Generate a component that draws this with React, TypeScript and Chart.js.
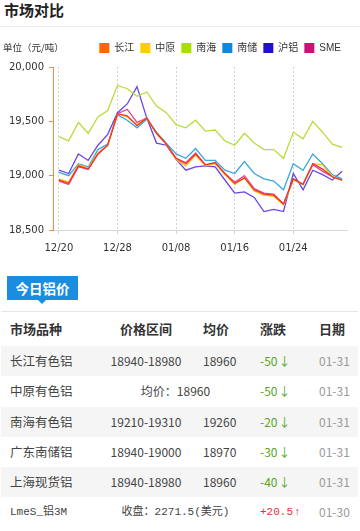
import React, { useEffect, useRef } from 'react';
import { Chart, registerables } from 'chart.js';

Chart.register(...registerables);

// ---------- chart data ----------
const dates = [
  '12/20', '12/21', '12/22', '12/25', '12/26', '12/27', '12/28', '12/29',
  '01/02', '01/03', '01/04', '01/05', '01/08', '01/09', '01/10', '01/11',
  '01/12', '01/15', '01/16', '01/17', '01/18', '01/19', '01/22', '01/23',
  '01/24', '01/25', '01/26', '01/29', '01/30', '01/31',
];
const seriesNames = ['长江', '中原', '南海', '南储', '沪铝', 'SME'];
const changjiang = [18960, 18930, 19090, 19060, 19200, 19280, 19570, 19550, 19460, 19530, 19390, 19290, 19160, 19110, 19200, 19100, 19120, 19020, 18930, 18980, 18870, 18830, 18820, 18740, 18970, 18920, 19110, 19060, 18990, 18960];
const zhongyuan = [18970, 18940, 19100, 19070, 19210, 19280, 19570, 19540, 19470, 19530, 19390, 19290, 19150, 19090, 19190, 19090, 19110, 19010, 18920, 18980, 18860, 18820, 18810, 18730, 18960, 18920, 19110, 19100, 18990, 18960];
const nanhai = [19360, 19320, 19490, 19390, 19540, 19600, 19830, 19800, 19730, 19770, 19640, 19580, 19470, 19440, 19510, 19410, 19420, 19320, 19280, 19390, 19300, 19240, 19240, 19160, 19400, 19340, 19500, 19400, 19290, 19260];
const nanchu = [19030, 19000, 19110, 19080, 19240, 19290, 19560, 19510, 19440, 19520, 19400, 19300, 19200, 19160, 19250, 19140, 19140, 19050, 19020, 19130, 19020, 18970, 18950, 18870, 19110, 19050, 19200, 19110, 19010, 18970];
const hulv = [19050, 19020, 19200, 19140, 19280, 19380, 19580, 19660, 19820, 19530, 19300, 19280, 19150, 19050, 19080, 19090, 19080, 18960, 18840, 18850, 18800, 18670, 18690, 18670, 19020, 18870, 19050, 19010, 18960, 19040];
const sme = [18950, 18920, 19080, 19060, 19200, 19280, 19570, 19610, 19490, 19530, 19390, 19290, 19160, 19120, 19210, 19100, 19120, 19020, 18940, 19000, 18880, 18840, 18830, 18740, 18970, 18920, 19100, 19040, 18990, 18960];
const seriesValues = [changjiang, zhongyuan, nanhai, nanchu, hulv, sme];
const yMin = 18500;
const yMax = 20000;
const yStep = 500;
const tickEvery = 6;

const legendColors = ['#ff6600', '#ffcc00', '#aadd00', '#0a88dd', '#2211cc', '#cc1177'];
const lineColors = ['#f2332a', '#ffbb00', '#b8dd3a', '#3aa8e0', '#6a44e4', '#e8489c'];

// ---------- table data ----------
const headers = ['市场品种', '价格区间', '均价', '涨跌', '日期'];
const markets = ['长江有色铝', '中原有色铝', '南海有色铝', '广东南储铝', '上海现货铝', 'LmeS_铝3M'];
const priceRanges = ['18940-18980', '', '19210-19310', '18940-19000', '18940-18980', ''];
const avgPrices = ['18960', '', '19260', '18970', '18960', ''];
const mergedTexts = ['', '均价：18960', '', '', '', '收盘：2271.5(美元)'];
const changes = ['-50', '-50', '-20', '-30', '-40', '+20.5'];
const rowDates = ['01-31', '01-31', '01-31', '01-31', '01-31', '01-30'];

const CJK = '"Noto Sans CJK SC", "Noto Sans", sans-serif';
const MONO = '"Liberation Mono", "Noto Sans CJK SC", monospace';

const legendGap = {
  id: 'legendGap',
  beforeInit(chart: any) {
    const legend = chart.legend;
    if (!legend) return;
    const orig = legend.fit;
    legend.fit = function () {
      orig.bind(legend)();
      this.height += 4;
    };
  },
};

function LineChart() {
  const ref = useRef<HTMLCanvasElement | null>(null);
  useEffect(() => {
    const canvas = ref.current;
    if (!canvas) return;
    const tickFont = { size: 10, family: '"DejaVu Sans", sans-serif' };
    const chart = new Chart(canvas, {
      type: 'line',
      data: {
        labels: dates,
        datasets: seriesNames.map((n, i) => ({
          label: n,
          data: seriesValues[i],
          borderColor: lineColors[i],
          backgroundColor: legendColors[i],
          borderWidth: 1.3,
          pointRadius: 0,
          pointHoverRadius: 0,
          tension: 0,
          fill: false,
        })),
      },
      options: {
        responsive: false,
        maintainAspectRatio: false,
        animation: false,
        layout: { padding: { top: 9, left: 4, right: 13, bottom: 5 } },
        plugins: {
          legend: {
            display: true,
            position: 'top',
            align: 'end',
            labels: {
              boxWidth: 10,
              boxHeight: 10,
              padding: 6,
              color: '#333',
              font: { size: 10, family: '"Liberation Sans", "Noto Sans CJK SC", sans-serif' },
              generateLabels: (c: any) =>
                c.data.datasets.map((ds: any, i: number) => ({
                  text: ds.label,
                  fillStyle: legendColors[i],
                  strokeStyle: legendColors[i],
                  lineWidth: 0,
                  hidden: false,
                  datasetIndex: i,
                  fontColor: '#333',
                })),
            },
          },
          tooltip: { enabled: false },
        },
        scales: {
          x: {
            offset: true,
            grid: { offset: false, color: '#d4d4d4', tickLength: 4, drawTicks: true },
            border: { color: '#d9d9d9', dash: [2, 2] },
            ticks: {
              autoSkip: false,
              maxRotation: 0,
              padding: 8,
              color: '#333',
              font: tickFont,
              callback: (_v: any, i: number) => (i % tickEvery === 0 ? dates[i] : null),
            },
          },
          y: {
            min: yMin,
            max: yMax,
            grid: { drawOnChartArea: false, color: '#ff8a3d', tickLength: 5 },
            border: { color: '#ff8a3d' },
            ticks: {
              stepSize: yStep,
              padding: 5,
              color: '#333',
              font: tickFont,
              callback: (v: any) => Number(v).toLocaleString('en-US'),
            },
          },
        },
      } as any,
      plugins: [legendGap],
    });
    return () => chart.destroy();
  }, []);
  return (
    <canvas
      ref={ref}
      width={360}
      height={239}
      style={{ position: 'absolute', left: 0, top: 28, width: 360, height: 239 }}
    />
  );
}

export default function App() {
  useEffect(() => {
    document.body.style.margin = '0';
    document.body.style.background = '#fff';
  }, []);
  const rowTop = 346;
  const rowH = 30.25;
  return (
    <div style={{ position: 'relative', width: 360, height: 531, fontFamily: CJK, color: '#333', overflow: 'hidden', background: '#fff' }}>
      <div style={{ position: 'absolute', left: 0, top: 0, width: 360, height: 26, borderBottom: '1px solid #ececec' }}>
        <div style={{ position: 'absolute', left: 4, top: 0, fontSize: 15, fontWeight: 700, lineHeight: '20px', color: '#222' }}>市场对比</div>
      </div>
      <LineChart />
      <div style={{ position: 'absolute', left: 3, top: 40, fontSize: 9.5, lineHeight: '14px', color: '#333', whiteSpace: 'nowrap' }}>单位（元/吨）</div>

      {/* tab */}
      <div style={{ position: 'absolute', left: 7, top: 276, width: 71, height: 24, background: '#1b8de0', color: '#fff', fontSize: 13.5, fontWeight: 700, lineHeight: '24px', textAlign: 'center' }}>今日铝价</div>
      <div style={{ position: 'absolute', left: 38, top: 300, width: 0, height: 0, borderLeft: '4px solid transparent', borderRight: '4px solid transparent', borderTop: '4px solid #1b8de0' }} />
      <div style={{ position: 'absolute', left: 1, top: 311, width: 357, height: 1, background: '#e6e6e6' }} />

      {/* header */}
      <div style={{ position: 'absolute', left: 1, top: 312, width: 357, height: 34, fontSize: 13, fontWeight: 700, lineHeight: '34px', color: '#333' }}>
        <span style={{ position: 'absolute', left: 9, top: 0 }}>{headers[0]}</span>
        <span style={{ position: 'absolute', left: 145, top: 0, transform: 'translateX(-50%)', whiteSpace: 'nowrap' }}>{headers[1]}</span>
        <span style={{ position: 'absolute', left: 202, top: 0 }}>{headers[2]}</span>
        <span style={{ position: 'absolute', left: 259, top: 0 }}>{headers[3]}</span>
        <span style={{ position: 'absolute', left: 318, top: 0 }}>{headers[4]}</span>
      </div>

      {markets.map((m, i) => {
        const up = changes[i].startsWith('+');
        const isLme = i === markets.length - 1;
        return (
          <div key={i} style={{ position: 'absolute', left: 1, top: rowTop + i * rowH, width: 357, height: rowH, background: i % 2 === 0 ? '#f5f5f5' : '#fff', lineHeight: rowH + 'px', color: '#444', whiteSpace: 'nowrap' }}>
            <span style={{ position: 'absolute', left: 9, top: 0, fontSize: isLme ? 11 : 12.5, fontFamily: isLme ? MONO : CJK }}>{m}</span>
            {priceRanges[i] && (
              <span style={{ position: 'absolute', left: 145, top: 0, transform: 'translateX(-50%)', fontSize: 12 }}>{priceRanges[i]}</span>
            )}
            {avgPrices[i] && (
              <span style={{ position: 'absolute', left: 202, top: 0, fontSize: 12 }}>{avgPrices[i]}</span>
            )}
            {mergedTexts[i] && (
              <span style={{ position: 'absolute', left: 174.5, top: 0, transform: 'translateX(-50%)', fontSize: isLme ? 11 : 12, fontFamily: isLme ? MONO : CJK }}>{mergedTexts[i]}</span>
            )}
            <span style={{ position: 'absolute', left: 259, top: 0, fontSize: isLme ? 11 : 12, fontFamily: isLme ? MONO : CJK, color: up ? '#e0303a' : '#59a623' }}>
              {changes[i]}
              <span style={{ marginLeft: 1 }}>{up ? '↑' : '↓'}</span>
            </span>
            <span style={{ position: 'absolute', left: 318, top: 0, fontSize: 12, color: '#999' }}>{rowDates[i]}</span>
          </div>
        );
      })}
    </div>
  );
}
